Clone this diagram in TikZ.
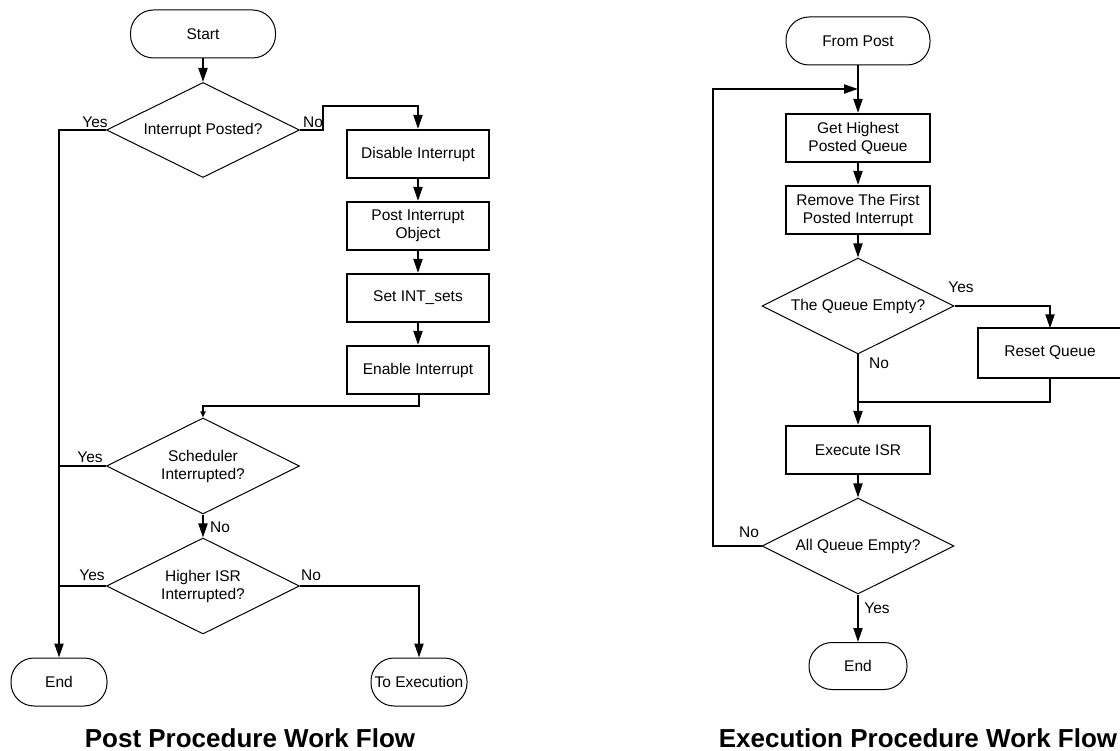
\documentclass[tikz,border=0pt]{standalone}
\usepackage{fontspec}
\setmainfont{Liberation Sans}
\usetikzlibrary{shapes.geometric,arrows.meta}
\begin{document}
\begin{tikzpicture}[x=1pt,y=-1pt,
  every node/.style={font=\fontsize{15.5}{18}\selectfont},
  procbox/.style={draw,line width=2.2pt,minimum width=142pt,minimum height=48pt,align=center,inner sep=0pt},
  decis/.style={draw,line width=1pt,diamond,aspect=2,minimum width=193pt,minimum height=95pt,align=center,inner sep=0pt},
  term/.style={draw,line width=1pt,rectangle,rounded corners=23pt,minimum height=48pt,align=center,inner sep=0pt},
  conn/.style={line width=2pt},
  arr/.style={conn,-{Triangle[length=14pt,width=9pt]}},
  sarr/.style={conn,-{Triangle[length=6pt,width=5pt]}},
  lbl/.style={inner sep=0pt},
  ttl/.style={font=\fontsize{26}{30}\selectfont\bfseries}
]
\useasboundingbox (0,0) rectangle (1120,751);
\clip (0,0) rectangle (1120,751);
% ---------- left chart ----------
\node[term,minimum width=145pt] (start) at (203,34) {Start};
\node[decis] (d1) at (203,130) {Interrupt Posted?};
\node[procbox] (dis) at (418,154) {Disable Interrupt};
\node[procbox] (post) at (418,226) {Post Interrupt\\Object};
\node[procbox] (set) at (418,298) {Set INT\_sets};
\node[procbox] (en) at (418,370) {Enable Interrupt};
\node[decis,minimum height=96pt] (d2) at (203,466) {Scheduler\\Interrupted?};
\node[decis,minimum height=96pt] (d3) at (203,586) {Higher ISR\\Interrupted?};
\node[term,minimum width=96pt] (end1) at (59,682) {End};
\node[term,minimum width=96pt] (toex) at (419,682) {To Execution};
\coordinate (n1) at (323,106);
\coordinate (k1) at (419,406);

\draw[arr] (start) -- (d1);
\draw[arr] (d1.west) -| (end1.north);
\draw[conn] (d2.west) -- (d2.west -| end1.north);
\draw[conn] (d3.west) -- (d3.west -| end1.north);
\draw[arr] (d1.east) -| (n1) -| (dis.north);
\draw[arr] (dis) -- (post);
\draw[arr] (post) -- (set);
\draw[arr] (set) -- (en);
\draw[sarr] (en.south -| k1) -- (k1) -| (d2.north);
\draw[arr] (d2) -- (d3);
\draw[arr] (d3.east) -| (toex.north);

\node[lbl] at (95,122) {Yes};
\node[lbl] at (313,122) {No};
\node[lbl] at (90,457) {Yes};
\node[lbl] at (220,527) {No};
\node[lbl] at (92,575) {Yes};
\node[lbl] at (311,575) {No};
\node[ttl] (t1) at (250,738) {Post Procedure Work Flow};

% ---------- right chart ----------
\node[term,minimum width=144pt] (fp) at (858,41) {From Post};
\node[procbox,minimum width=144pt] (gh) at (858,138) {Get Highest\\Posted Queue};
\node[procbox,minimum width=144pt] (rm) at (858,210) {Remove The First\\Posted Interrupt};
\node[decis,minimum width=192pt,minimum height=96pt] (d4) at (858,306) {The Queue Empty?};
\node[minimum width=144pt,minimum height=49pt,inner sep=0pt] (rq) at (1050,353) {Reset Queue};
\draw[line width=2.2pt] (rq.north east) ++(10,0) -- (rq.north west) -- (rq.south west) -- ++(154,0);
\node[procbox,minimum width=144pt] (ex) at (858,450) {Execute ISR};
\node[decis,minimum width=192pt,minimum height=96pt] (d5) at (858,546) {All Queue Empty?};
\node[term,minimum width=98pt,minimum height=47pt] (end2) at (858,666) {End};
\coordinate (lp) at (713,89);
\coordinate (mg) at (858,89);
\coordinate (jn) at (858,402);

\draw[arr] (fp) -- (gh);
\draw[arr] (d5.west) -| (lp) -- (mg);
\draw[arr] (gh) -- (rm);
\draw[arr] (rm) -- (d4);
\draw[arr] (d4.east) -| (rq.north);
\draw[arr] (d4.south) -- (ex.north);
\draw[conn] (rq.south) |- (jn);
\draw[arr] (ex) -- (d5);
\draw[arr] (d5) -- (end2);

\node[lbl] at (961,287) {Yes};
\node[lbl] at (879,363) {No};
\node[lbl] at (749,532) {No};
\node[lbl] at (877,608) {Yes};
\node[ttl] (t2) at (918,738) {Execution Procedure Work Flow};
\end{tikzpicture}
\end{document}
